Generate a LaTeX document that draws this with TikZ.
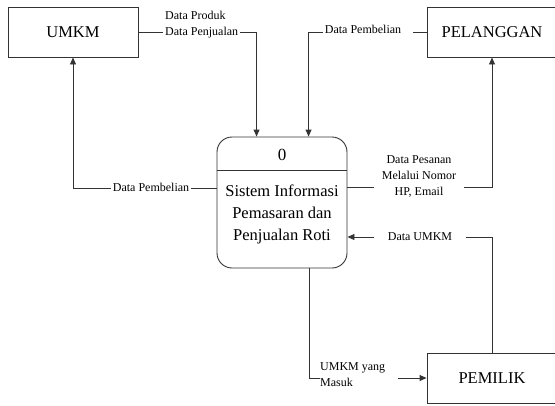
\documentclass[tikz,border=0pt]{standalone}
\usepackage{fontspec}
\setmainfont{Liberation Serif}
\usetikzlibrary{arrows.meta,calc}
\begin{document}
\begin{tikzpicture}[x=1pt,y=-1pt,
  line/.style={draw=black!80,line width=0.9pt},
  flow/.style={line,-{Triangle[length=7pt,width=6pt]}},
  entity/.style={draw=black!80,line width=0.9pt,minimum width=130pt,minimum height=50pt,
    inner sep=0pt,font=\fontsize{16.5}{19}\selectfont},
  lbl/.style={inner xsep=2pt,inner ysep=0pt,font=\fontsize{12}{16}\selectfont,align=center},
]
\useasboundingbox (0,0) rectangle (555,405);

% external entities
\node[entity] (umkm) at (73,32) {UMKM};
\node[entity] (pel) at (492,32) {PELANGGAN};
\node[entity] (pem) at (492,378) {PEMILIK};

% process
\node[draw=black!80,line width=0.9pt,rounded corners=15pt,minimum width=130pt,
  minimum height=131pt,inner sep=0pt] (proc) at (282,202.5) {};
\coordinate (dl) at ($(proc.north west)+(0,34)$);
\coordinate (dr) at ($(proc.north east)+(0,34)$);
\draw[line] (dl) -- (dr);
\node[font=\fontsize{17}{20}\selectfont] (pnum) at (282,155) {0};
\node[font=\fontsize{16.5}{22}\selectfont,align=center] (pname) at (282,214)
  {Sistem Informasi\\Pemasaran dan\\Penjualan Roti};

% UMKM -> process
\node[lbl,align=left,anchor=west] (l1) at (163,25) {Data Produk\\Data Penjualan};
\draw[line] (umkm.east) -- (umkm.east -| l1.west);
\draw[flow] (l1.east |- umkm.east) -| ($(proc.north west)+(40,0)$);

% PELANGGAN -> process
\node[lbl] (l2) at (363,29) {Data Pembelian};
\draw[line] (pel.west) -- ($(pel.west -| l2.east)+(10,0)$);
\draw[flow] (l2.west |- pel.west) -| ($(proc.north west)+(92,0)$);

% process -> UMKM
\coordinate (p3) at ($(proc.north west)+(0,52)$);
\node[lbl] (l3) at (151,187) {Data Pembelian};
\draw[line] (p3) -- (p3 -| l3.east);
\draw[flow] (l3.west |- p3) -| (umkm.south);

% process -> PELANGGAN
\coordinate (p4) at ($(proc.north east)+(0,51)$);
\node[lbl,inner xsep=8pt] (l4) at (419,176) {Data Pesanan\\Melalui Nomor\\HP, Email};
\draw[line] (p4) -- (p4 -| l4.west);
\draw[flow] (l4.east |- p4) -| (pel.south);

% PEMILIK -> process
\node[lbl,inner xsep=14pt] (l5) at (420,237) {Data UMKM};
\draw[line] (pem.north) |- (l5.east);
\draw[flow] (l5.west) -- (l5.west -| proc.east);

% process -> PEMILIK
\coordinate (p6) at ($(proc.south west)+(93,0)$);
\node[lbl,align=left,anchor=west,inner xsep=5pt] (l6) at (315,375) {UMKM yang\\Masuk};
\draw[line] (p6) |- ($(l6.west)+(5,3)$);
\draw[flow] ($(l6.east |- pem.west)+(8,0)$) -- (pem.west);
\end{tikzpicture}
\end{document}
